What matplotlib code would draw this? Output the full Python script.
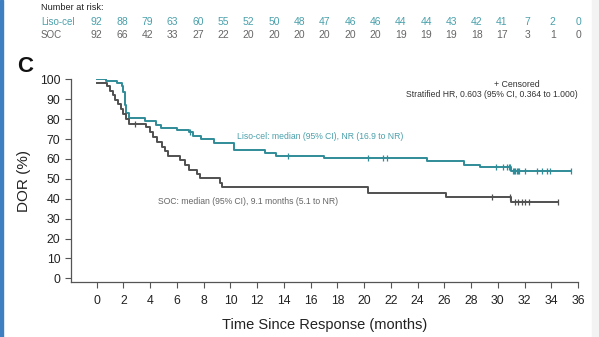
import numpy as np
import matplotlib
matplotlib.use("Agg")
import matplotlib.pyplot as plt
from matplotlib.patches import Rectangle

plt.rcParams["font.family"] = ["Liberation Sans Narrow", "Liberation Sans", "DejaVu Sans"]

TEAL = "#2f8c98"
TEAL_TXT = "#4aa0ab"
GRAY = "#505050"
GRAY_TXT = "#666666"

# Kaplan-Meier step data (time in months, DOR %)
liso_t = [0, 0.7, 1.5, 1.9, 2.0, 2.1, 2.2, 2.4, 3.6, 4.4, 4.8, 6.0, 6.9, 7.2, 7.8, 8.8,
          10.3, 12.6, 13.4, 17.0, 24.7, 27.5, 28.7, 31.0, 35.5]
liso_s = [100, 99.2, 98.3, 96.7, 93.5, 87, 83, 80.5, 78.8, 77, 75.5, 74.5, 73.3, 71.5, 70, 68.2,
          64.6, 63.2, 61.6, 60.4, 58.8, 57, 55.8, 53.8, 53.8]
liso_cens = [7.0, 14.3, 20.3, 21.4, 21.7, 29.9, 30.4, 30.7, 30.8, 30.9, 31.1, 31.2, 31.3,
             31.4, 31.5, 31.6, 32.0, 32.9, 33.3, 33.7, 33.9, 35.5]

soc_t = [0, 0.75, 1.0, 1.2, 1.4, 1.6, 1.8, 2.0, 2.2, 2.4, 3.7, 4.0, 4.2, 4.5, 4.9, 5.1, 5.3,
         6.2, 6.6, 6.9, 7.5, 7.7, 9.2, 9.4, 20.3, 26.1, 30.95, 34.5]
soc_s = [98.3, 96.6, 94.0, 92.3, 89.7, 87.4, 84.9, 82.4, 79.9, 77.6, 76.0, 73.5, 71.2, 68.7,
         66.2, 63.8, 61.5, 59.2, 56.8, 54.6, 52.6, 50.3, 47.9, 45.7, 43.0, 41.0, 38.1, 38.1]
soc_cens = [2.85, 29.6, 30.9, 31.3, 31.5, 31.8, 32.0, 32.3, 34.5]

# number at risk
risk_liso = [92, 88, 79, 63, 60, 55, 52, 50, 48, 47, 46, 46, 44, 44, 43, 42, 41, 7, 2, 0]
risk_soc = [92, 66, 42, 33, 27, 22, 20, 20, 20, 20, 20, 20, 19, 19, 19, 18, 17, 3, 1, 0]

xticks = list(range(0, 37, 2))
yticks = list(range(0, 101, 10))


def surv_at(times, surv, x):
    i = np.searchsorted(times, x, side="right") - 1
    return surv[max(i, 0)]


fig = plt.figure(figsize=(5.99, 3.37), dpi=100)
ax = fig.add_axes([0.118, 0.1623, 0.847, 0.6024])

ax.step(liso_t, liso_s, where="post", color=TEAL, lw=1.4)
ax.step(soc_t, soc_s, where="post", color=GRAY, lw=1.4)
ax.plot(liso_cens, [surv_at(liso_t, liso_s, c) for c in liso_cens], ls="none",
        marker="|", ms=4, mew=0.9, color=TEAL)
ax.plot(soc_cens, [surv_at(soc_t, soc_s, c - 0.01) for c in soc_cens], ls="none",
        marker="|", ms=4, mew=0.9, color=GRAY)

ax.set_xlim(-1.95, 36)
ax.set_ylim(-2, 100)
ax.set_xticks(xticks)
ax.set_yticks(yticks)
ax.spines["top"].set_visible(False)
ax.spines["right"].set_visible(False)
for s in ("left", "bottom"):
    ax.spines[s].set_color("#555555")
    ax.spines[s].set_linewidth(0.9)
ax.tick_params(axis="both", direction="out", length=4, width=0.8, color="#555555",
               labelsize=8.8, labelcolor="#222222")
ax.tick_params(axis="x", pad=5)

ax.set_ylabel("DOR (%)", fontsize=11, color="#222222", labelpad=6)
ax.set_xlabel("Time Since Response (months)", fontsize=10.5, color="#222222", labelpad=8)

ax.text(31.4, 97.5, "+ Censored", fontsize=6.3, color="#333333", ha="center", va="center")
ax.text(36, 92.4, "Stratified HR, 0.603 (95% CI, 0.364 to 1.000)", fontsize=6.2,
        color="#333333", ha="right", va="center")
ax.text(10.5, 71.3, "Liso-cel: median (95% CI), NR (16.9 to NR)", fontsize=6.2,
        color=TEAL_TXT, ha="left", va="center")
ax.text(4.6, 38.6, "SOC: median (95% CI), 9.1 months (5.1 to NR)", fontsize=6.2,
        color=GRAY_TXT, ha="left", va="center")

# risk table
risk_x = np.linspace(0, 36, len(risk_liso))
fig.text(41 / 599, 1 - 8 / 337, "Number at risk:", fontsize=6.6, color="#222222", va="center")
fig.text(41 / 599, 1 - 22 / 337, "Liso-cel", fontsize=7, color=TEAL_TXT, va="center")
fig.text(41 / 599, 1 - 35 / 337, "SOC", fontsize=7, color=GRAY_TXT, va="center")
for xv, a, b in zip(risk_x, risk_liso, risk_soc):
    px = ax.transData.transform((xv, 0))[0] / fig.bbox.width
    fig.text(px, 1 - 22 / 337, str(a), fontsize=7.5, color=TEAL_TXT, ha="center", va="center")
    fig.text(px, 1 - 35 / 337, str(b), fontsize=7.5, color=GRAY_TXT, ha="center", va="center")

fig.text(25 / 599, 1 - 66 / 337, "C", fontsize=16, fontweight="bold", color="#111111",
         ha="center", va="center", family=["Liberation Sans", "DejaVu Sans"])

# blue edge bar on the left and light strip on the right
fig.patches.append(Rectangle((0, 0), 2.5 / 599, 1, transform=fig.transFigure,
                             color="#3d7fc1", zorder=5))
fig.patches.append(Rectangle((592 / 599, 0), 7 / 599, 1, transform=fig.transFigure,
                             color="#f3f3f3", zorder=0))

fig.savefig("out.png", dpi=100)
